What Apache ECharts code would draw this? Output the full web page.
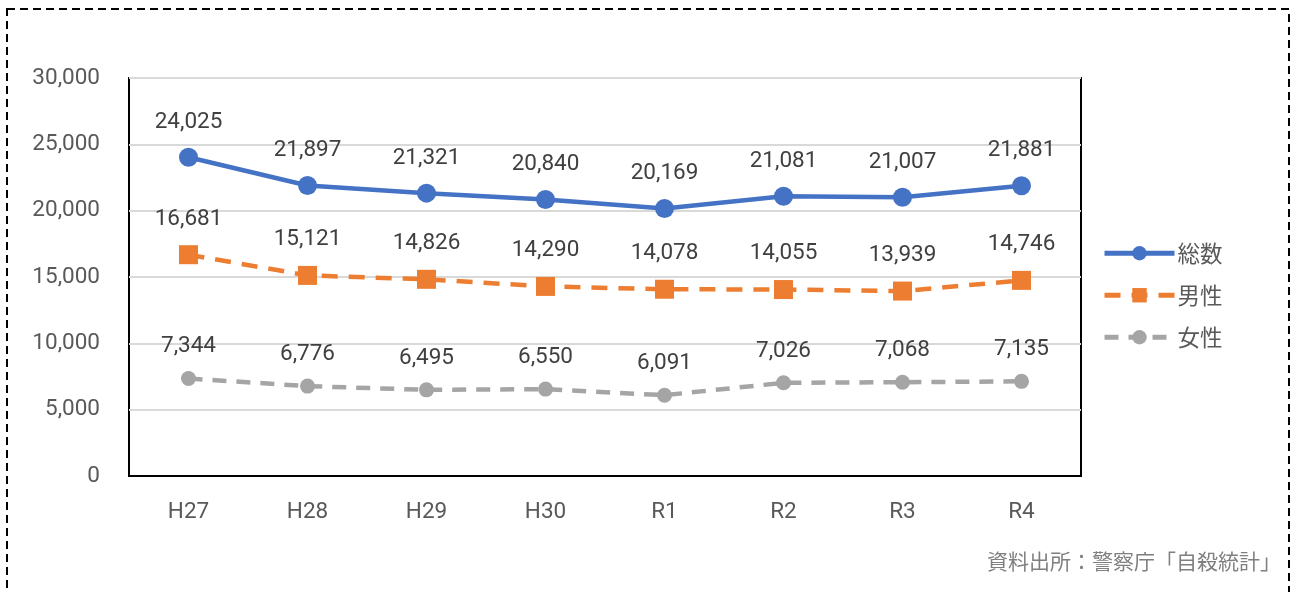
<!DOCTYPE html>
<html>
<head>
<meta charset="utf-8">
<script src="https://cdn.jsdelivr.net/npm/echarts@6/dist/echarts.min.js"></script>
<style>
  html, body { margin: 0; padding: 0; background: #fff; }
  #chart { width: 1297px; height: 592px; }
</style>
</head>
<body>
<div id="chart"></div>
<script>
// 自殺者数の推移（総数・男性・女性）
const years = ['H27', 'H28', 'H29', 'H30', 'R1', 'R2', 'R3', 'R4'];
const total = [24025, 21897, 21321, 20840, 20169, 21081, 21007, 21881];
const male = [16681, 15121, 14826, 14290, 14078, 14055, 13939, 14746];
const female = [7344, 6776, 6495, 6550, 6091, 7026, 7068, 7135];
const yTicks = { min: 0, max: 30000, interval: 5000 };
const sourceNote = '資料出所：警察庁「自殺統計」';

const numFont = 'Roboto, "Noto Sans CJK JP", sans-serif';
const jpFont = '"Noto Sans CJK JP", "Noto Sans", sans-serif';
const fontSize = 22.5;

const fmt = v => v.toLocaleString('en-US');

function valueLabel(dist) {
  return {
    show: true,
    position: 'top',
    distance: dist,
    color: '#404040',
    fontSize: fontSize,
    fontFamily: numFont,
    formatter: p => fmt(p.value)
  };
}

const chart = echarts.init(document.getElementById('chart'), null, { renderer: 'canvas' });
chart.setOption({
  animation: false,
  backgroundColor: '#ffffff',
  grid: {
    left: 129, top: 78, width: 952, height: 398,
    show: true, borderColor: '#000000', borderWidth: 2,
    containLabel: false
  },
  legend: {
    orient: 'vertical',
    left: 1097,
    top: 237,
    itemWidth: 70,
    itemHeight: 18,
    itemGap: 19.5,
    lineStyle: { width: 5 },
    textStyle: { color: '#595959', fontSize: fontSize, fontFamily: jpFont, padding: [0, 0, 0, -2] },
    data: ['総数', '男性', '女性']
  },
  xAxis: {
    type: 'category',
    data: years,
    boundaryGap: true,
    axisLine: { show: true, lineStyle: { color: '#000000', width: 2 } },
    axisTick: { show: false },
    axisLabel: { color: '#595959', fontSize: fontSize, fontFamily: numFont, margin: 25 }
  },
  yAxis: {
    type: 'value',
    min: yTicks.min, max: yTicks.max, interval: yTicks.interval,
    axisLine: { show: false },
    axisTick: { show: false },
    splitLine: { show: true, lineStyle: { color: '#d9d9d9', width: 2 } },
    axisLabel: { color: '#595959', fontSize: fontSize, fontFamily: numFont, margin: 29, formatter: v => fmt(v) }
  },
  series: [
    {
      name: '総数', type: 'line', data: total,
      symbol: 'circle', symbolSize: 19,
      itemStyle: { color: '#4472c4' },
      lineStyle: { color: '#4472c4', width: 4.5 },
      label: valueLabel(14.5),
      z: 3
    },
    {
      name: '男性', type: 'line', data: male,
      symbol: 'rect', symbolSize: 19,
      itemStyle: { color: '#ed7d31' },
      lineStyle: { color: '#ed7d31', width: 4.5, type: [16, 11] },
      label: valueLabel(15),
      z: 2
    },
    {
      name: '女性', type: 'line', data: female,
      symbol: 'circle', symbolSize: 15,
      itemStyle: { color: '#a5a5a5' },
      lineStyle: { color: '#a5a5a5', width: 4.5, type: [14, 10] },
      label: valueLabel(13),
      z: 1
    }
  ],
  graphic: [
    {
      type: 'rect',
      shape: { x: 7, y: 9, width: 1282, height: 600 },
      style: { fill: 'none', stroke: '#000000', lineWidth: 2, lineDash: [8, 5] },
      silent: true
    },
    {
      type: 'text',
      right: 16, top: 551,
      style: { text: sourceNote, fill: '#7f7f7f', fontSize: 21, fontFamily: jpFont }
    }
  ]
});
</script>
</body>
</html>
